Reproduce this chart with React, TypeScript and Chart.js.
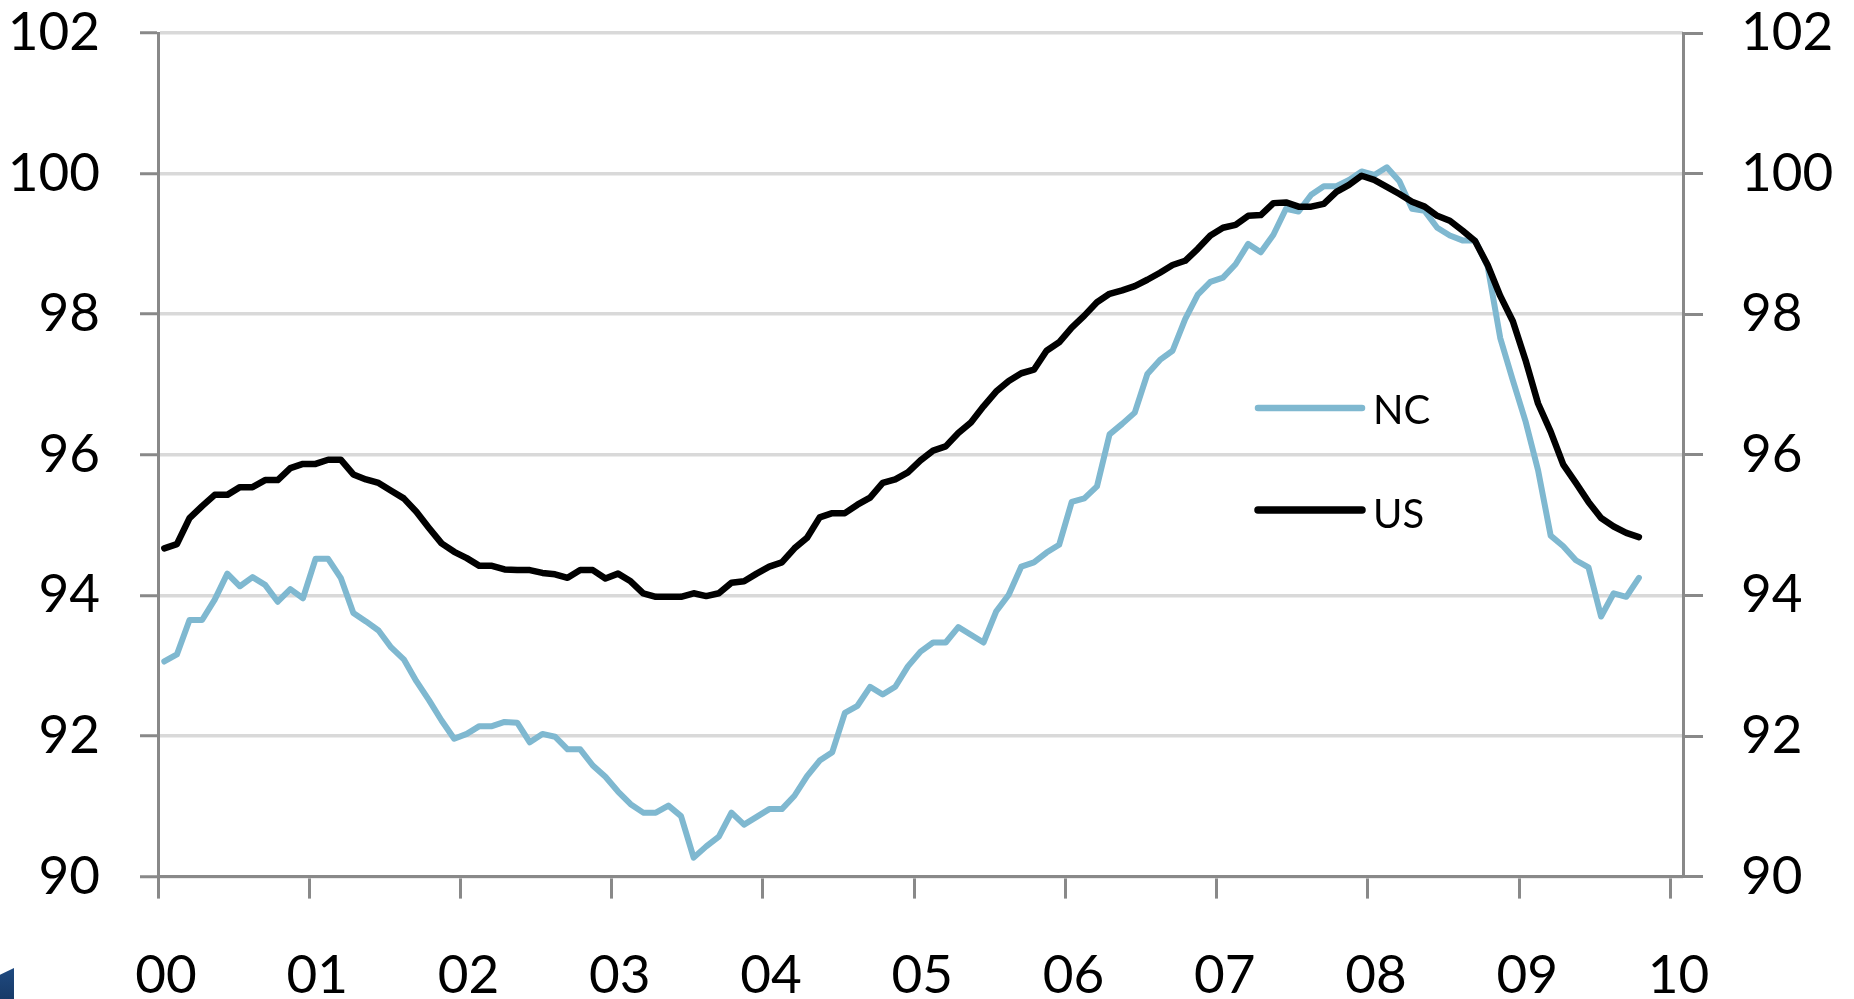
import React, { useEffect, useRef } from 'react';
import { Chart, registerables } from 'chart.js';

Chart.register(...registerables);

// ---- data ----
const yearLabels = ['00', '01', '02', '03', '04', '05', '06', '07', '08', '09', '10'];
const axisMonths = 121; // Jan 2000 .. Jan 2010 categories
const yTicks = [90, 92, 94, 96, 98, 100, 102];

const ncValues = [
  93.06, 93.16, 93.65, 93.65, 93.94, 94.31, 94.13, 94.26, 94.15, 93.91, 94.09, 93.96,
  94.52, 94.52, 94.25, 93.75, 93.63, 93.50, 93.26, 93.09, 92.78, 92.51, 92.22, 91.96,
  92.03, 92.14, 92.14, 92.20, 92.19, 91.91, 92.03, 91.99, 91.81, 91.81, 91.58, 91.42,
  91.21, 91.03, 90.91, 90.91, 91.01, 90.86, 90.27, 90.43, 90.57, 90.91, 90.74, 90.85,
  90.96, 90.96, 91.15, 91.43, 91.65, 91.77, 92.33, 92.43, 92.70, 92.59, 92.70, 92.99,
  93.20, 93.33, 93.33, 93.55, 93.44, 93.33, 93.77, 94.01, 94.41, 94.47, 94.61, 94.72,
  95.33, 95.38, 95.55, 96.29, 96.44, 96.60, 97.15, 97.35, 97.48, 97.93, 98.28, 98.46,
  98.52, 98.71, 99.00, 98.88, 99.13, 99.50, 99.46, 99.70, 99.82, 99.82, 99.91, 100.03,
  99.98, 100.09, 99.89, 99.50, 99.47, 99.23, 99.12, 99.05, 99.05, 98.68, 97.66, 97.06,
  96.48, 95.78, 94.85, 94.70, 94.50, 94.40, 93.70, 94.03, 93.98, 94.25,
];

const usValues = [
  94.67, 94.73, 95.10, 95.27, 95.43, 95.43, 95.54, 95.54, 95.64, 95.64, 95.81, 95.87,
  95.87, 95.93, 95.93, 95.72, 95.65, 95.60, 95.49, 95.38, 95.19, 94.96, 94.74, 94.62,
  94.53, 94.42, 94.42, 94.37, 94.36, 94.36, 94.32, 94.30, 94.25, 94.36, 94.36, 94.24,
  94.31, 94.20, 94.03, 93.98, 93.98, 93.98, 94.03, 93.99, 94.03, 94.18, 94.20, 94.31,
  94.41, 94.47, 94.67, 94.82, 95.11, 95.17, 95.17, 95.29, 95.39, 95.60, 95.65, 95.75,
  95.92, 96.06, 96.12, 96.31, 96.46, 96.69, 96.90, 97.05, 97.16, 97.21, 97.48, 97.60,
  97.81, 97.98, 98.17, 98.29, 98.34, 98.40, 98.49, 98.59, 98.70, 98.76, 98.93, 99.12,
  99.23, 99.27, 99.40, 99.41, 99.58, 99.59, 99.53, 99.53, 99.57, 99.74, 99.84, 99.97,
  99.91, 99.81, 99.71, 99.60, 99.53, 99.40, 99.33, 99.19, 99.04, 98.70, 98.26, 97.90,
  97.35, 96.73, 96.33, 95.86, 95.60, 95.33, 95.10, 94.98, 94.89, 94.83,
];

const seriesLabels = ['NC', 'US'];
const seriesColors = ['#7fb8d0', '#000000'];

// ---- helpers ----
const toPoints = (vals: number[]) => vals.map((v, i) => ({ x: i + 0.5, y: v }));

const FONT = 'Lato';

const inlineLegend = {
  id: 'inlineLegend',
  afterDraw(chart: any, _args: any, opts: any) {
    const ctx = chart.ctx;
    chart.data.datasets.forEach((ds: any, k: number) => {
      const y = opts.lineY[k];
      ctx.save();
      ctx.strokeStyle = ds.borderColor;
      ctx.lineWidth = opts.widths[k];
      ctx.lineCap = 'round';
      ctx.beginPath();
      ctx.moveTo(opts.x1, y);
      ctx.lineTo(opts.x2, y);
      ctx.stroke();
      ctx.fillStyle = '#000';
      ctx.font = `40px ${FONT}`;
      ctx.textBaseline = 'alphabetic';
      ctx.textAlign = 'left';
      ctx.fillText(ds.label, opts.textX, opts.baseY[k]);
      ctx.restore();
    });
  },
};

const noVerticalPadding = (scale: any, width: number) => {
  scale.width = width;
  scale.paddingTop = 0;
  scale.paddingBottom = 0;
};

export default function App() {
  const ref = useRef<HTMLCanvasElement | null>(null);

  useEffect(() => {
    if (!ref.current) return;
    const axisGray = '#898989';
    const gridGray = '#d9d9d9';
    const chart = new Chart(ref.current, {
      type: 'line',
      data: {
        datasets: [
          {
            label: seriesLabels[0],
            data: toPoints(ncValues),
            borderColor: seriesColors[0],
            borderWidth: 6,
            pointRadius: 0,
            borderJoinStyle: 'round',
            borderCapStyle: 'round',
            tension: 0,
            order: 1,
          },
          {
            label: seriesLabels[1],
            data: toPoints(usValues),
            borderColor: seriesColors[1],
            borderWidth: 6.5,
            pointRadius: 0,
            borderJoinStyle: 'round',
            borderCapStyle: 'round',
            tension: 0,
            order: 0,
          },
        ],
      },
      options: {
        responsive: false,
        animation: false,
        events: [],
        layout: { padding: { top: 33, left: 0, right: 0, bottom: 0 } },
        plugins: {
          legend: { display: false },
          tooltip: { enabled: false },
          inlineLegend: {
            x1: 1258,
            x2: 1362,
            textX: 1373,
            lineY: [408, 510],
            baseY: [424, 528],
            widths: [6.5, 7.5],
          },
        } as any,
        scales: {
          x: {
            type: 'linear',
            position: 'bottom',
            min: 0,
            max: axisMonths,
            afterBuildTicks: (scale: any) => {
              scale.ticks = yearLabels.map((_, k) => ({ value: k * 12 }));
            },
            afterFit: (scale: any) => {
              scale.height = 122.4;
              scale.paddingLeft = 0;
              scale.paddingRight = 0;
            },
            ticks: {
              autoSkip: false,
              maxRotation: 0,
              minRotation: 0,
              labelOffset: 8,
              padding: 46,
              color: '#000',
              font: { family: FONT, size: 53 },
              callback: (value: any) => yearLabels[Math.round(Number(value) / 12)] ?? '',
            },
            grid: {
              drawOnChartArea: false,
              drawTicks: true,
              tickLength: 22,
              tickColor: axisGray,
              lineWidth: 3,
              color: axisGray,
            },
            border: { color: axisGray, width: 3 },
          },
          y: {
            type: 'linear',
            position: 'left',
            min: 90,
            max: 102,
            afterBuildTicks: (scale: any) => {
              scale.ticks = yTicks.map((v) => ({ value: v }));
            },
            afterFit: (scale: any) => noVerticalPadding(scale, 158),
            ticks: {
              padding: 40,
              color: '#000',
              font: { family: FONT, size: 53 },
            },
            grid: {
              color: gridGray,
              lineWidth: 3.5,
              drawTicks: true,
              tickLength: 18,
              tickColor: axisGray,
              tickWidth: 3,
            },
            border: { color: axisGray, width: 3 },
          },
          y2: {
            type: 'linear',
            position: 'right',
            display: true,
            min: 90,
            max: 102,
            afterBuildTicks: (scale: any) => {
              scale.ticks = yTicks.map((v) => ({ value: v }));
            },
            afterFit: (scale: any) => noVerticalPadding(scale, 171),
            ticks: {
              padding: 38,
              color: '#000',
              font: { family: FONT, size: 53 },
            },
            grid: {
              drawOnChartArea: false,
              drawTicks: true,
              tickLength: 20,
              tickColor: axisGray,
              lineWidth: 3,
              color: axisGray,
            },
            border: { color: axisGray, width: 3 },
          },
        } as any,
      },
      plugins: [inlineLegend],
    });
    return () => chart.destroy();
  }, []);

  return (
    <div
      style={{
        position: 'fixed',
        left: 0,
        top: 0,
        width: 1854,
        height: 999,
        background: '#fff',
        overflow: 'hidden',
      }}
    >
      <canvas ref={ref} width={1854} height={999} style={{ display: 'block' }} />
      <div
        style={{
          position: 'absolute',
          left: 0,
          top: 968,
          width: 14,
          height: 31,
          background: 'linear-gradient(180deg, #1f4a80 0%, #183a68 100%)',
          clipPath: 'polygon(0 22%, 100% 0, 100% 100%, 0 100%)',
        }}
      />
    </div>
  );
}
